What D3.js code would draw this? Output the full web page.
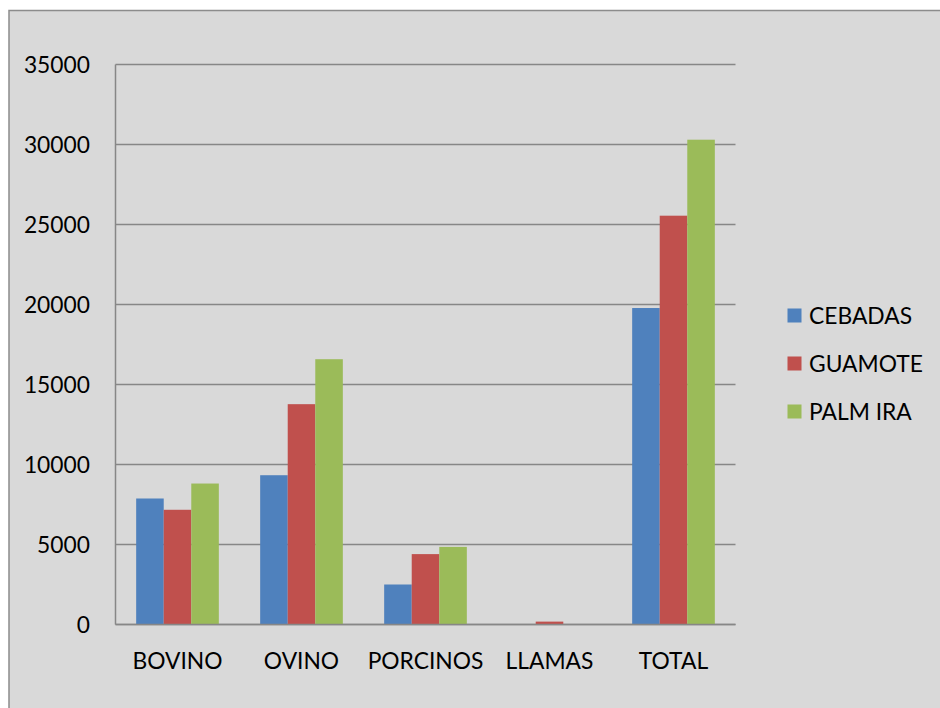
<!DOCTYPE html>
<html><head><meta charset="utf-8">
<script src="https://cdn.jsdelivr.net/npm/d3@7"></script>
<style>html,body{margin:0;padding:0;background:#fff;}svg{display:block;}</style>
</head><body>
<svg id="c" width="940" height="708"></svg>
<script>
const categories = ["BOVINO", "OVINO", "PORCINOS", "LLAMAS", "TOTAL"];
const seriesNames = ["CEBADAS", "GUAMOTE", "PALM IRA"];
const cebadas = [7875, 9330, 2500, 0, 19780];
const guamote = [7170, 13770, 4400, 180, 25550];
const palmira = [8810, 16580, 4850, 0, 30300];
const yTicks = [0, 5000, 10000, 15000, 20000, 25000, 30000, 35000];
const colors = ["#4f81bd", "#c0504d", "#9bbb59"];
const seriesValues = [cebadas, guamote, palmira];

(function () {
const svg = d3.select("#c");
const font = "Lato, 'Open Sans', sans-serif";
const fs = 22.8;
svg.append("rect").attr("x", 9).attr("y", 10.5).attr("width", 960).attr("height", 720)
  .attr("fill", "#d9d9d9").attr("stroke", "#8c8c8c").attr("stroke-width", 1.5);

const pLeft = 115.5, pRight = 735.5, pTop = 64.5, pBottom = 624.5;
const x0 = d3.scaleBand().domain(categories).range([pLeft, pRight]).padding(0);
const x1 = d3.scaleBand().domain(seriesNames).range([0, x0.bandwidth()]).paddingInner(0).paddingOuter(0.75);
const y = d3.scaleLinear().domain([0, 35000]).range([pBottom, pTop]);

svg.append("g").selectAll("line").data(yTicks).join("line")
  .attr("x1", pLeft).attr("x2", pRight)
  .attr("y1", d => y(d)).attr("y2", d => y(d))
  .attr("stroke", "#878787").attr("stroke-width", 1.5);

svg.append("line").attr("x1", pLeft).attr("x2", pLeft).attr("y1", pTop).attr("y2", pBottom)
  .attr("stroke", "#878787").attr("stroke-width", 1.5);

const rows = categories.map((c, i) => ({c, vals: seriesNames.map((s, j) => ({s, j, v: seriesValues[j][i]}))}));
const g = svg.append("g").selectAll("g").data(rows).join("g")
  .attr("transform", d => `translate(${x0(d.c)},0)`);
g.selectAll("rect").data(d => d.vals.filter(v => v.v > 0)).join("rect")
  .attr("x", d => x1(d.s)).attr("width", x1.bandwidth())
  .attr("y", d => y(d.v)).attr("height", d => y(0) - y(d.v))
  .attr("fill", d => colors[d.j]);

svg.append("line").attr("x1", pLeft).attr("x2", pRight).attr("y1", y(0)).attr("y2", y(0))
  .attr("stroke", "#878787").attr("stroke-width", 1.5);

svg.append("g").selectAll("text").data(yTicks).join("text")
  .attr("x", 90).attr("y", d => y(d)).attr("dy", "0.36em")
  .attr("text-anchor", "end").attr("font-family", font).attr("font-size", fs).attr("fill", "#000")
  .text(d => d);

svg.append("g").selectAll("text").data(categories).join("text")
  .attr("x", d => x0(d) + x0.bandwidth() / 2).attr("y", 668.5)
  .attr("text-anchor", "middle").attr("font-family", font).attr("font-size", fs).attr("fill", "#000")
  .text(d => d);

const lg = svg.append("g").selectAll("g").data(seriesNames).join("g")
  .attr("transform", (d, i) => `translate(787.5,${308.5 + i * 48})`);
lg.append("rect").attr("width", 14).attr("height", 14).attr("fill", (d, i) => colors[i]);
lg.append("text").attr("x", 21.5).attr("y", 15).attr("font-family", font).attr("font-size", fs)
  .attr("fill", "#000").text(d => d);
})();
</script>
</body></html>
